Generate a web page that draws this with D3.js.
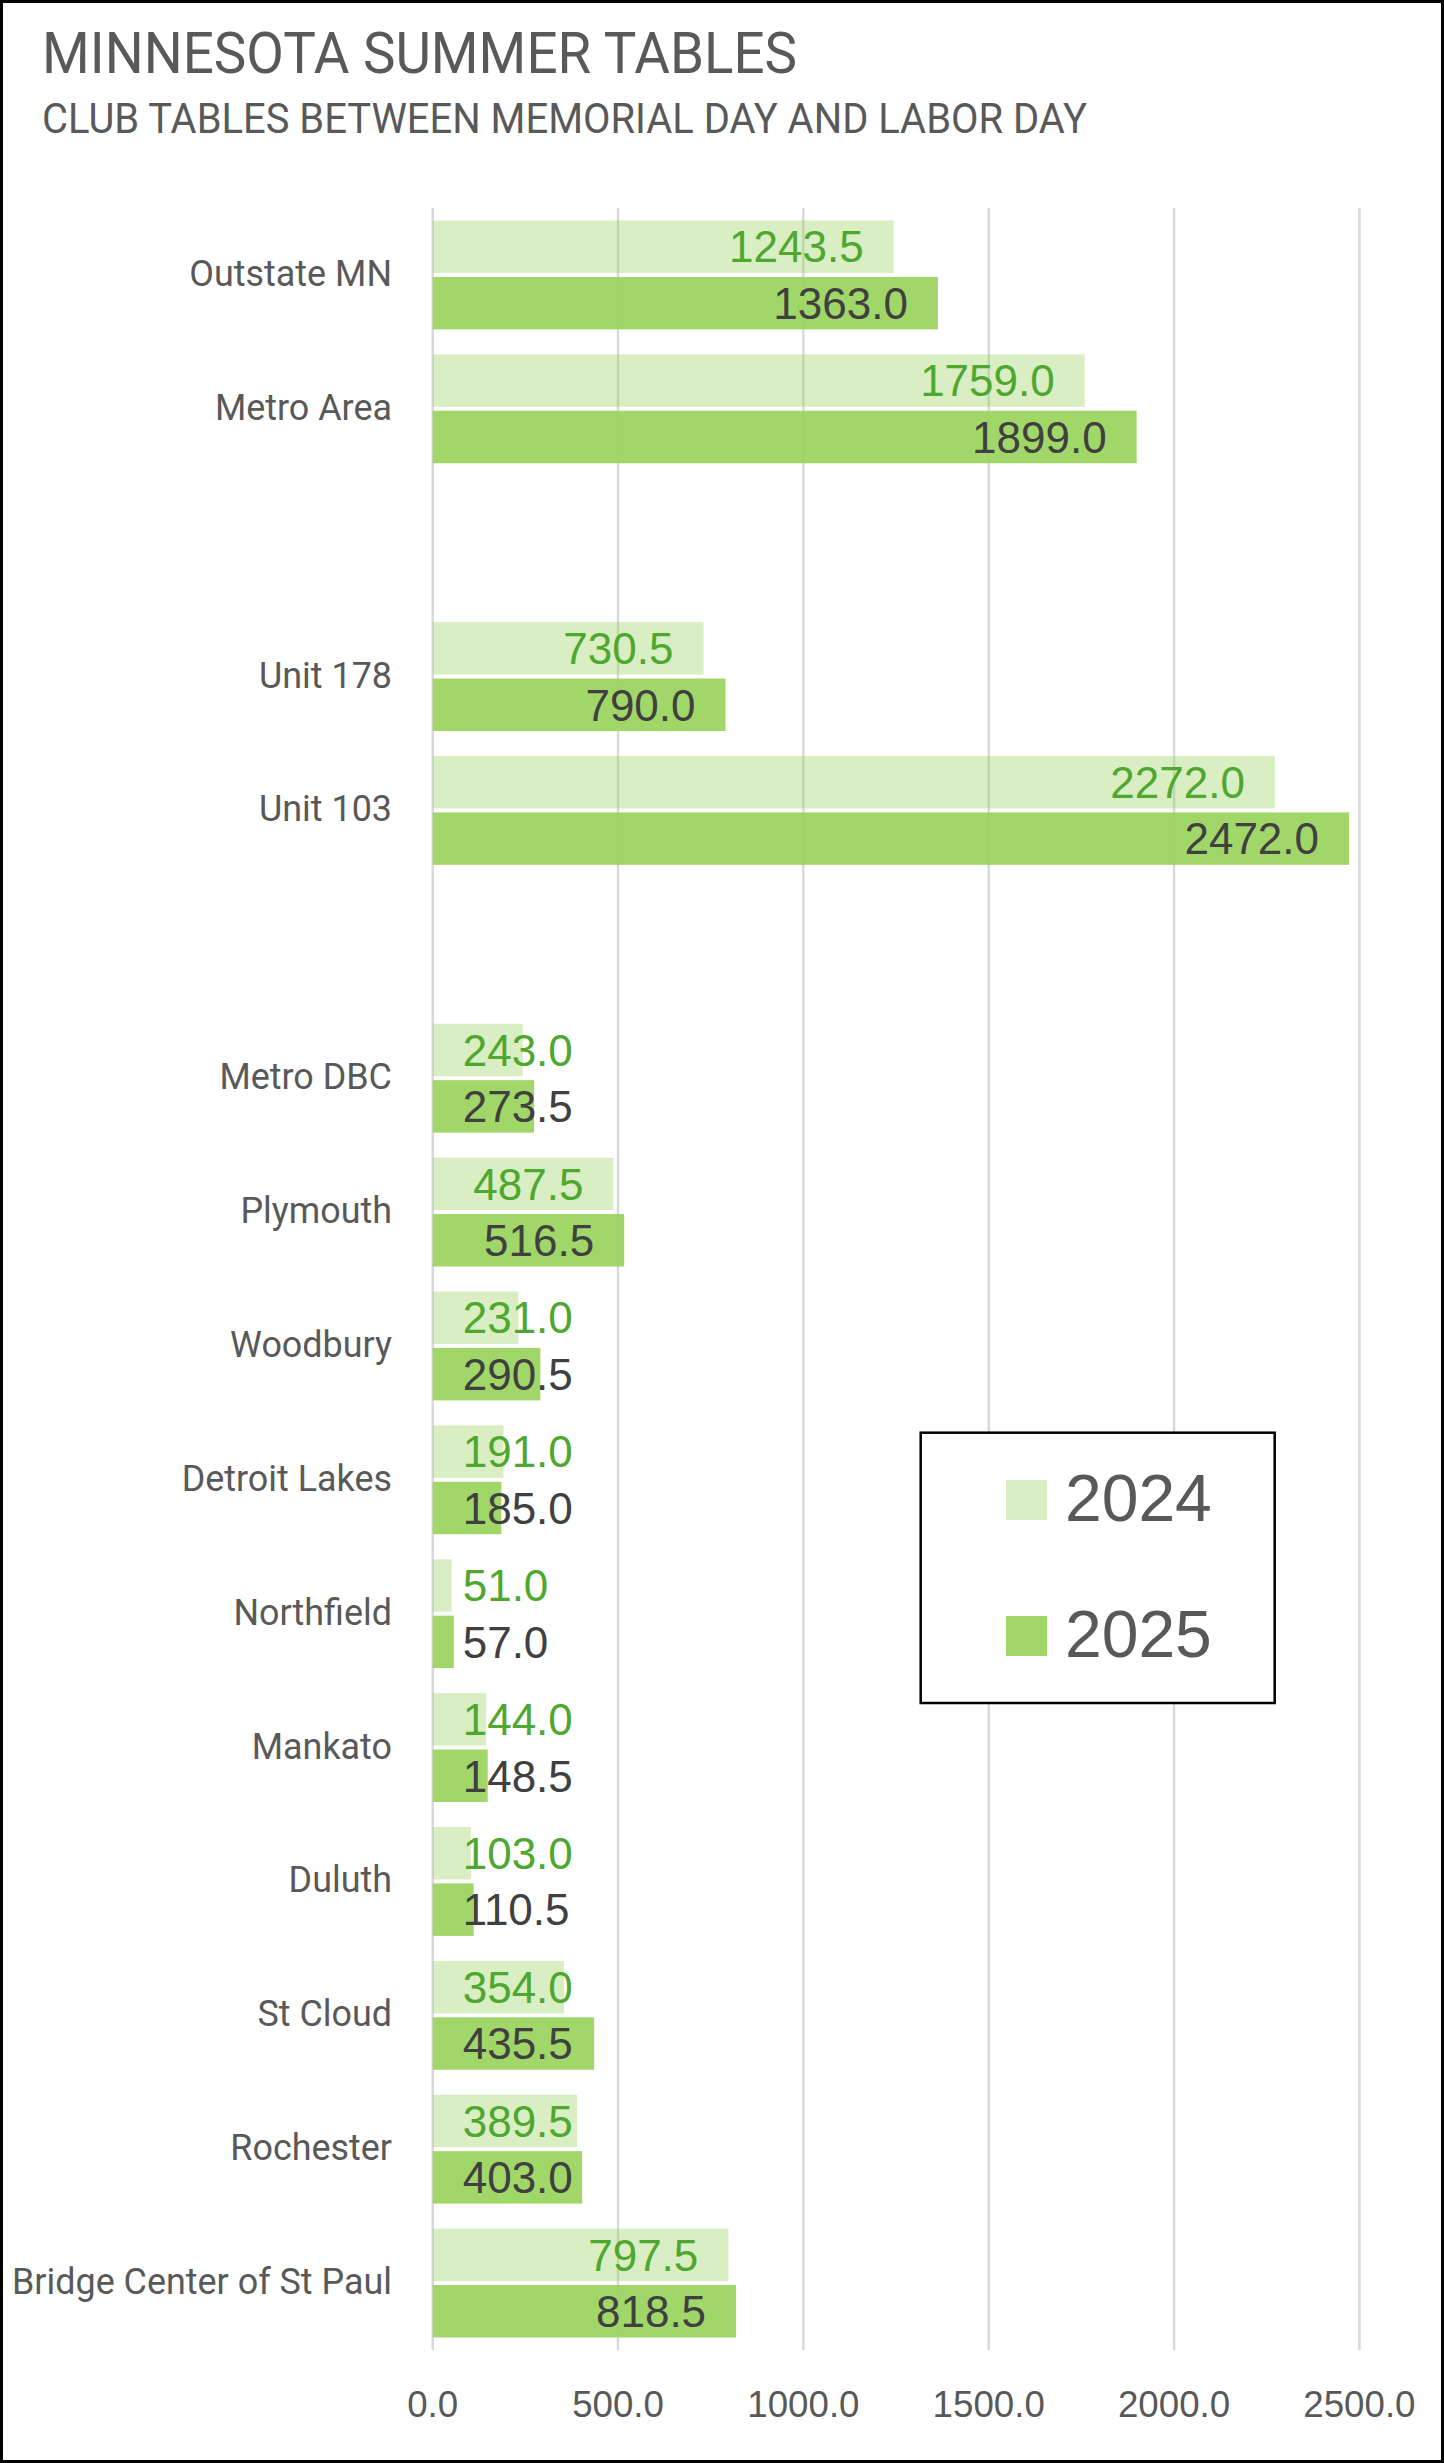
<!DOCTYPE html>
<html>
<head>
<meta charset="utf-8">
<script src="https://cdn.jsdelivr.net/npm/d3@7"></script>
<style>
  html, body { margin: 0; padding: 0; background: #fff; }
  svg { display: block; }
</style>
</head>
<body>
<svg id="chart" width="1444" height="2463"></svg>
<script>
// ---------------- data ----------------
const categories = [
  "Outstate MN", "Metro Area", "", "Unit 178", "Unit 103", " ",
  "Metro DBC", "Plymouth", "Woodbury", "Detroit Lakes", "Northfield",
  "Mankato", "Duluth", "St Cloud", "Rochester", "Bridge Center of St Paul"
];
const values2024 = [1243.5, 1759.0, null, 730.5, 2272.0, null,
  243.0, 487.5, 231.0, 191.0, 51.0, 144.0, 103.0, 354.0, 389.5, 797.5];
const values2025 = [1363.0, 1899.0, null, 790.0, 2472.0, null,
  273.5, 516.5, 290.5, 185.0, 57.0, 148.5, 110.5, 435.5, 403.0, 818.5];
const seriesNames = ["2024", "2025"];
const xTicks = [0, 500, 1000, 1500, 2000, 2500];
const titleText = "MINNESOTA SUMMER TABLES";
const subtitleText = "CLUB TABLES BETWEEN MEMORIAL DAY AND LABOR DAY";

// ---------------- setup ----------------
const W = 1444, H = 2463;
const svg = d3.select("#chart");
const labelFont = "'Liberation Sans', Arial, sans-serif";
const headFont = "Roboto, 'Noto Sans', sans-serif";
const grey = "#595959";

const x = d3.scaleLinear().domain([0, 2500]).range([432.7, 1359.4]);
const y = d3.scaleBand().domain(categories).range([208, 2350])
  .paddingInner(0.187).paddingOuter(0.0935);
const ySub = d3.scaleBand().domain(seriesNames).range([0, y.bandwidth()]).paddingInner(0.07);

const seriesStyle = {
  "2024": { fill: "#9AD35E", opacity: 0.38, label: "#4EA72E" },
  "2025": { fill: "#9AD35E", opacity: 0.93, label: "#404040" }
};

// background + border
svg.append("rect").attr("x", 0).attr("y", 0).attr("width", W).attr("height", H).attr("fill", "#fff");

// titles
const title = svg.append("text").attr("x", 42).attr("y", 72.5)
  .attr("font-family", headFont).attr("font-size", 57.5).attr("fill", grey)
  .text(titleText);
title.attr("textLength", 755).attr("lengthAdjust", "spacingAndGlyphs");
const sub = svg.append("text").attr("x", 42).attr("y", 133)
  .attr("font-family", headFont).attr("font-size", 42).attr("fill", grey)
  .text(subtitleText);
sub.attr("textLength", 1045).attr("lengthAdjust", "spacingAndGlyphs");

// gridlines
svg.append("g").selectAll("line").data(xTicks).join("line")
  .attr("x1", d => x(d)).attr("x2", d => x(d))
  .attr("y1", 208).attr("y2", 2350)
  .attr("stroke", "#D9D9D9").attr("stroke-width", 2.5);

// tick labels
svg.append("g").selectAll("text").data(xTicks).join("text")
  .attr("x", d => x(d)).attr("y", 2416.7)
  .attr("text-anchor", "middle")
  .attr("font-family", labelFont).attr("font-size", 36.7).attr("fill", grey)
  .text(d => d3.format(".1f")(d));

// rows
const rows = categories.map((c, i) => ({ cat: c, v: { "2024": values2024[i], "2025": values2025[i] } }));

const barData = [];
rows.forEach(r => seriesNames.forEach(s => {
  if (r.v[s] != null) barData.push({ cat: r.cat, series: s, value: r.v[s] });
}));

svg.append("g").selectAll("rect").data(barData).join("rect")
  .attr("x", x(0))
  .attr("y", d => y(d.cat) + ySub(d.series))
  .attr("width", d => x(d.value) - x(0))
  .attr("height", ySub.bandwidth())
  .attr("fill", d => seriesStyle[d.series].fill)
  .attr("fill-opacity", d => seriesStyle[d.series].opacity);

// data labels
const lbl = svg.append("g").selectAll("text").data(barData).join("text")
  .attr("text-anchor", "end")
  .attr("font-family", labelFont).attr("font-size", 44)
  .attr("fill", d => seriesStyle[d.series].label)
  .attr("y", d => y(d.cat) + ySub(d.series) + ySub.bandwidth() / 2 + 15.75)
  .text(d => d3.format(".1f")(d.value));
lbl.each(function(d) {
  const w = this.getComputedTextLength();
  const right = Math.max(x(d.value) - 30, x(0) + 30 + w);
  d3.select(this).attr("x", right);
});

// category labels
const catLabels = svg.append("g").selectAll("text")
  .data(rows.filter(r => r.cat.trim() !== "")).join("text")
  .attr("x", 392).attr("text-anchor", "end")
  .attr("y", d => y(d.cat) + y.bandwidth() / 2 + 11)
  .attr("font-family", headFont).attr("font-size", 37).attr("fill", grey)
  .text(d => d.cat);
// horizontal fit factor derived from the widest label
let k = 1;
catLabels.each(function(d) {
  if (d.cat === "Bridge Center of St Paul") k = 380 / this.getComputedTextLength();
});
catLabels.each(function() {
  const w = this.getComputedTextLength();
  d3.select(this).attr("textLength", w * k).attr("lengthAdjust", "spacingAndGlyphs");
});

// legend
const lg = svg.append("g");
lg.append("rect").attr("x", 920.7).attr("y", 1432.7).attr("width", 354).attr("height", 270.3)
  .attr("fill", "#fff").attr("stroke", "#000").attr("stroke-width", 2.5);
const legY = { "2024": 1480, "2025": 1616 };
seriesNames.forEach(s => {
  lg.append("rect").attr("x", 1006).attr("y", legY[s]).attr("width", 41).attr("height", 40)
    .attr("fill", seriesStyle[s].fill).attr("fill-opacity", seriesStyle[s].opacity);
  lg.append("text").attr("x", 1065).attr("y", legY[s] + 40.5)
    .attr("font-family", labelFont).attr("font-size", 66).attr("fill", grey)
    .text(s);
});

// outer border
svg.append("rect").attr("x", 1.5).attr("y", 1.5).attr("width", W - 3).attr("height", H - 3)
  .attr("fill", "none").attr("stroke", "#000").attr("stroke-width", 3);
</script>
</body>
</html>
